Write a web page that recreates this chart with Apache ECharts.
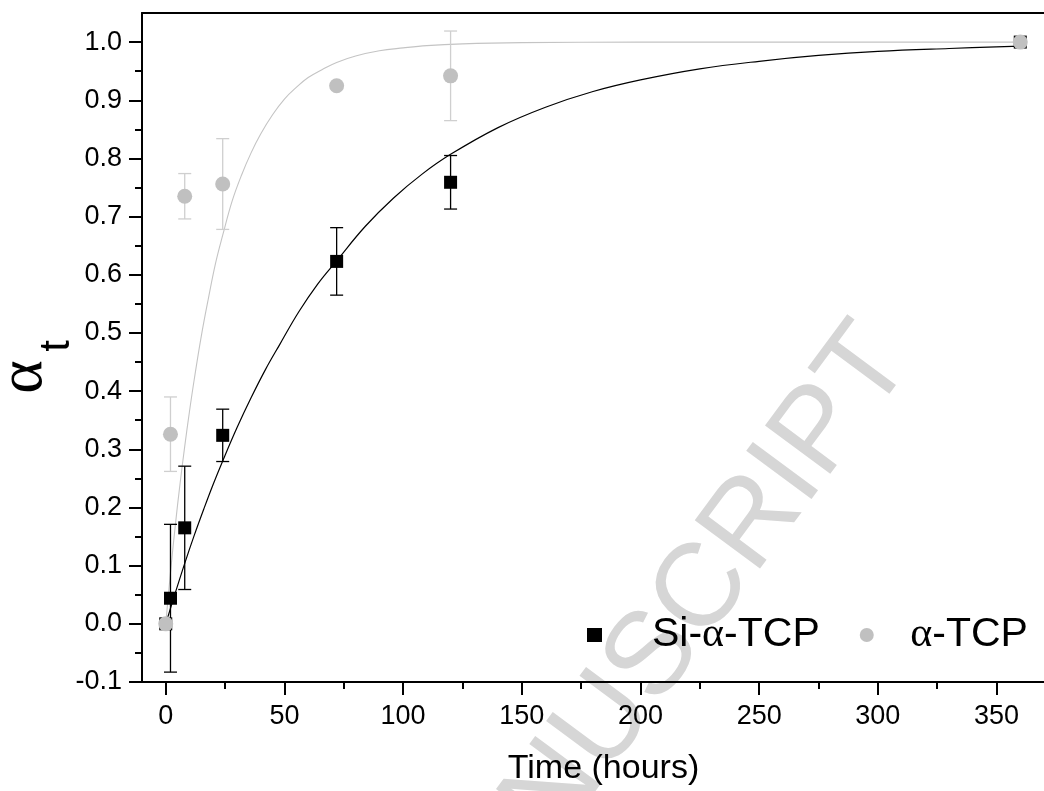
<!DOCTYPE html>
<html><head><meta charset="utf-8">
<script src="https://cdn.jsdelivr.net/npm/echarts@6/dist/echarts.min.js"></script>
<style>html,body{margin:0;padding:0;background:#fff}#c{width:1044px;height:791px}</style>
</head><body><div id="c"></div>
<script>
// ---- data ----
const timesSi  = [0, 2, 8, 24, 72, 120, 360];
const valuesSi = [0, 0.044, 0.165, 0.324, 0.623, 0.759, 1.0];
const errorsSi = [0, 0.127, 0.106, 0.045, 0.058, 0.046, 0];

const timesA  = [0, 2, 8, 24, 72, 120, 360];
const valuesA = [0, 0.326, 0.735, 0.756, 0.925, 0.942, 1.0];
const errorsA = [0, 0.064, 0.039, 0.078, 0, 0.077, 0];

const fitSiT = [0, 4, 8, 12, 16, 20, 24, 30, 36, 42, 48, 56, 64, 72, 84, 96, 108, 120, 140, 160, 180, 200, 225, 250, 275, 300, 330, 360];
const fitSiV = [0, 0.053, 0.104, 0.152, 0.197, 0.24, 0.28, 0.337, 0.389, 0.437, 0.48, 0.536, 0.584, 0.624, 0.683, 0.732, 0.773, 0.807, 0.853, 0.888, 0.915, 0.935, 0.954, 0.967, 0.977, 0.984, 0.989, 0.993];

const fitAT = [0, 2, 4, 6, 8, 10, 12, 15, 18, 21, 24, 28, 32, 36, 40, 45, 50, 55, 60, 66, 72, 80, 90, 100, 110, 125, 150, 200, 260, 360];
const fitAV = [0, 0.088, 0.168, 0.24, 0.305, 0.365, 0.42, 0.495, 0.56, 0.62, 0.668, 0.727, 0.772, 0.81, 0.842, 0.875, 0.902, 0.922, 0.939, 0.953, 0.965, 0.976, 0.985, 0.99, 0.994, 0.997, 0.999, 1.0, 1.0, 1.0];

const xMajorTicks = [0, 50, 100, 150, 200, 250, 300, 350];
const xMinorTicks = [25, 75, 125, 175, 225, 275, 325];
const yMajorTicks = [-0.1, 0.0, 0.1, 0.2, 0.3, 0.4, 0.5, 0.6, 0.7, 0.8, 0.9, 1.0];
const yMinorTicks = [-0.05, 0.05, 0.15, 0.25, 0.35, 0.45, 0.55, 0.65, 0.75, 0.85, 0.95];

const nameSi = 'Si-α-TCP';
const nameA = 'α-TCP';

// ---- build ----
const zip3 = (a, b, c) => a.map((v, i) => [v, b[i], c[i]]);
const zip2 = (a, b) => a.map((v, i) => [v, b[i]]);

function errRender(color) {
  return function (params, api) {
    const t = api.value(0), v = api.value(1), e = api.value(2);
    if (!e) return null;
    const top = api.coord([t, v + e]);
    const bot = api.coord([t, v - e]);
    const hw = 6.5;
    const style = { stroke: color, lineWidth: 1.3 };
    return {
      type: 'group', children: [
        { type: 'line', shape: { x1: top[0], y1: top[1], x2: bot[0], y2: bot[1] }, style },
        { type: 'line', shape: { x1: top[0] - hw, y1: top[1], x2: top[0] + hw, y2: top[1] }, style },
        { type: 'line', shape: { x1: bot[0] - hw, y1: bot[1], x2: bot[0] + hw, y2: bot[1] }, style }
      ]
    };
  };
}

const FONT = 'Liberation Sans';
const XMIN = -10, XMAX = 370, YMIN = -0.1, YMAX = 1.05;

const chart = echarts.init(document.getElementById('c'), null, { renderer: 'canvas' });
chart.setOption({
  backgroundColor: '#fff',
  animation: false,
  grid: { left: 142, top: 13, right: -11, bottom: 108, containLabel: false },
  xAxis: [
    {
      type: 'value', min: XMIN, max: XMAX, position: 'bottom',
      axisLine: { show: true, onZero: false, lineStyle: { color: '#000', width: 2 } },
      axisTick: { show: true, inside: false, length: 13, customValues: xMajorTicks, lineStyle: { color: '#000', width: 2 } },
      axisLabel: { show: true, customValues: xMajorTicks, margin: 21, color: '#000', fontSize: 27, fontFamily: FONT },
      splitLine: { show: false },
      name: 'Time (hours)', nameLocation: 'middle', nameGap: 70,
      nameTextStyle: { color: '#000', fontSize: 34, fontFamily: FONT, padding: [0, 0, 0, 21] }
    },
    {
      type: 'value', min: XMIN, max: XMAX, position: 'bottom',
      axisLine: { show: false, onZero: false },
      axisTick: { show: true, inside: false, length: 7, customValues: xMinorTicks, lineStyle: { color: '#000', width: 2 } },
      axisLabel: { show: false },
      splitLine: { show: false }
    },
    {
      type: 'value', min: XMIN, max: XMAX, position: 'top',
      axisLine: { show: true, onZero: false, lineStyle: { color: '#000', width: 2 } },
      axisTick: { show: false }, axisLabel: { show: false }, splitLine: { show: false }
    }
  ],
  yAxis: [
    {
      type: 'value', min: YMIN, max: YMAX, position: 'left',
      axisLine: { show: true, onZero: false, lineStyle: { color: '#000', width: 2 } },
      axisTick: { show: true, inside: false, length: 13, customValues: yMajorTicks, lineStyle: { color: '#000', width: 2 } },
      axisLabel: { show: true, customValues: yMajorTicks, margin: 20, color: '#000', fontSize: 27, fontFamily: FONT,
        formatter: v => (Math.abs(v) < 1e-9 ? 0 : v).toFixed(1) },
      splitLine: { show: false }
    },
    {
      type: 'value', min: YMIN, max: YMAX, position: 'left',
      axisLine: { show: false, onZero: false },
      axisTick: { show: true, inside: false, length: 7, customValues: yMinorTicks, lineStyle: { color: '#000', width: 2 } },
      axisLabel: { show: false },
      splitLine: { show: false }
    }
  ],
  legend: {
    data: [nameSi, nameA],
    left: 587, top: 614, padding: 0,
    itemWidth: 15, itemHeight: 14, itemGap: 40,
    selectedMode: false,
    formatter: function (name) {
      if (name === nameSi) return '{p1| }{s|Si-}{g|α}{s|-TCP}';
      return '{p2| }{g|α}{s|-TCP}';
    },
    textStyle: {
      color: '#000', fontSize: 41, fontFamily: FONT,
      rich: {
        p1: { width: 45, fontSize: 41, lineHeight: 42 },
        p2: { width: 31, fontSize: 41, lineHeight: 42 },
        s: { fontSize: 41, fontFamily: FONT, color: '#000', lineHeight: 42 },
        g: { fontSize: 42, fontFamily: 'Liberation Serif', color: '#000', lineHeight: 42 }
      }
    }
  },
  graphic: {
    elements: [
      {
        type: 'text', z: -10, silent: true,
        x: 424, y: 968, rotation: 53.5 * Math.PI / 180,
        style: { text: 'MANUSCRIPT', fill: '#d6d6d6', font: '118px "Liberation Sans"',
          textAlign: 'left', align: 'left', textVerticalAlign: 'middle', verticalAlign: 'middle' }
      },
      {
        type: 'text', silent: true,
        x: 24, y: 377, rotation: Math.PI / 2,
        style: { text: 'α', fill: '#000', font: '64px "Liberation Serif"',
          textAlign: 'center', align: 'center', textVerticalAlign: 'middle', verticalAlign: 'middle' }
      },
      {
        type: 'text', silent: true,
        x: 57, y: 346, rotation: Math.PI / 2,
        style: { text: 't', fill: '#000', font: '42px "Liberation Sans"',
          textAlign: 'center', align: 'center', textVerticalAlign: 'middle', verticalAlign: 'middle' }
      }
    ]
  },
  series: [
    {
      name: 'fitSi', type: 'line', xAxisIndex: 0, yAxisIndex: 0, data: zip2(fitSiT, fitSiV),
      smooth: 0.4, showSymbol: false, symbol: 'none', silent: true, z: 2,
      lineStyle: { color: '#000', width: 1.2 }
    },
    {
      name: 'fitA', type: 'line', xAxisIndex: 0, yAxisIndex: 0, data: zip2(fitAT, fitAV),
      smooth: 0.4, showSymbol: false, symbol: 'none', silent: true, z: 2,
      lineStyle: { color: '#c4c4c4', width: 1.1 }
    },
    {
      name: 'errSi', type: 'custom', xAxisIndex: 0, yAxisIndex: 0, z: 3,
      data: zip3(timesSi, valuesSi, errorsSi), encode: { x: 0, y: 1 },
      renderItem: errRender('#000'), silent: true
    },
    {
      name: nameSi, type: 'scatter', xAxisIndex: 0, yAxisIndex: 0, z: 4,
      data: zip2(timesSi, valuesSi), symbol: 'rect', symbolSize: 13,
      itemStyle: { color: '#000', opacity: 1 }
    },
    {
      name: 'errA', type: 'custom', xAxisIndex: 0, yAxisIndex: 0, z: 5,
      data: zip3(timesA, valuesA, errorsA), encode: { x: 0, y: 1 },
      renderItem: errRender('#cfcfcf'), silent: true
    },
    {
      name: nameA, type: 'scatter', xAxisIndex: 0, yAxisIndex: 0, z: 6,
      data: zip2(timesA, valuesA), symbol: 'circle', symbolSize: 15,
      itemStyle: { color: '#c0c0c0', opacity: 1 }
    }
  ]
});
</script>
</body></html>
